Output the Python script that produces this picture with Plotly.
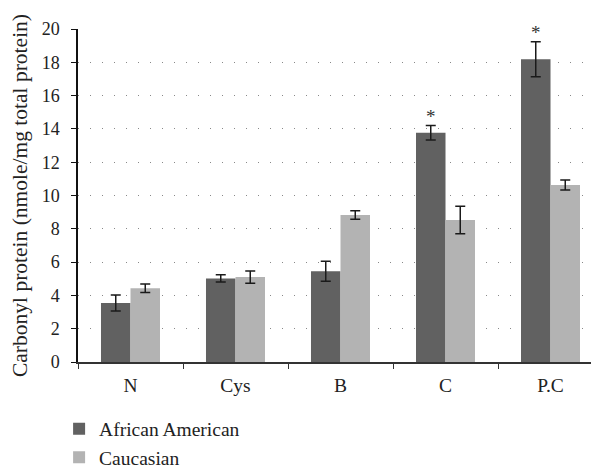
import plotly.graph_objects as go

categories = ["N", "Cys", "B", "C", "P.C"]
african_american = [3.55, 5.02, 5.45, 13.77, 18.18]
african_american_err = [0.48, 0.22, 0.6, 0.43, 1.05]
caucasian = [4.43, 5.1, 8.83, 8.53, 10.63]
caucasian_err = [0.25, 0.37, 0.25, 0.82, 0.3]
significant = ["C", "P.C"]

FONT = "Liberation Serif"

fig = go.Figure()
fig.add_trace(go.Bar(
    name="African American", x=categories, y=african_american,
    marker=dict(color="#616161", line=dict(width=0)),
    error_y=dict(type="data", array=african_american_err, color="#1a1a1a", thickness=1.5, width=5),
))
fig.add_trace(go.Bar(
    name="Caucasian", x=categories, y=caucasian,
    marker=dict(color="#b3b3b3", line=dict(width=0)),
    error_y=dict(type="data", array=caucasian_err, color="#1a1a1a", thickness=1.5, width=5),
))

for c in significant:
    i = categories.index(c)
    fig.add_annotation(
        x=c, y=african_american[i] + african_american_err[i], xshift=-15, yshift=-3,
        text="*", showarrow=False, yanchor="bottom",
        font=dict(family=FONT, size=19, color="#333333"),
    )

fig.update_layout(
    width=599, height=472,
    margin=dict(l=70, r=4, t=21, b=118, autoexpand=False),
    plot_bgcolor="white", paper_bgcolor="white",
    barmode="group", bargap=0.438, bargroupgap=0,
    font=dict(family=FONT, size=19, color="#222222"),
    showlegend=True,
    legend=dict(orientation="v", x=-0.036, xanchor="left", y=-0.143, yanchor="top",
                font=dict(family=FONT, size=19.5), tracegroupgap=0, itemwidth=30),
)
fig.update_xaxes(
    showline=True, linecolor="#333333", linewidth=1.5,
    ticks="outside", tickson="boundaries", ticklen=5, tickcolor="#333333",
    showgrid=False, tickfont=dict(family=FONT, size=19.5), automargin=False,
    ticklabelstandoff=5,
)
fig.update_yaxes(
    range=[0, 20], dtick=2, showline=True, linecolor="#111111", linewidth=1.5,
    ticks="outside", ticklen=5, tickcolor="#111111",
    showgrid=True, gridcolor="#888888", gridwidth=1.2, griddash="1px,11px",
    zeroline=False, tickfont=dict(family=FONT, size=18), automargin=False,
    ticklabelstandoff=8,
    title=dict(text="Carbonyl protein (nmole/mg total protein)", font=dict(family=FONT, size=21.5), standoff=9),
)

fig.write_html("out.html")
